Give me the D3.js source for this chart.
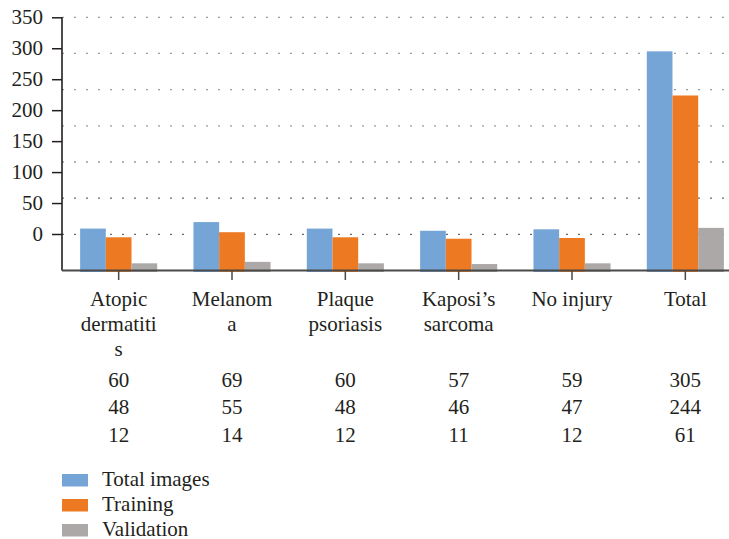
<!DOCTYPE html>
<html>
<head>
<meta charset="utf-8">
<script src="https://cdn.jsdelivr.net/npm/d3@7/dist/d3.min.js"></script>
</head>
<body style="margin:0">
<svg id="chart" width="729" height="539" font-family="Liberation Serif"></svg>
<script>
// Dataset split per lesion class
const categories = ["Atopic dermatitis", "Melanoma", "Plaque psoriasis", "Kaposi’s sarcoma", "No injury", "Total"];
const categoryLines = [["Atopic", "dermatiti", "s"], ["Melanom", "a"], ["Plaque", "psoriasis"], ["Kaposi’s", "sarcoma"], ["No injury"], ["Total"]];
const seriesNames = ["Total images", "Training", "Validation"];
const totalImages = [60, 69, 60, 57, 59, 305];
const training = [48, 55, 48, 46, 47, 244];
const validation = [12, 14, 12, 11, 12, 61];
const yTickValues = [0, 50, 100, 150, 200, 250, 300, 350];
const gridValues = [50, 100, 150, 200, 250, 300, 350];

const seriesValues = [totalImages, training, validation];
const colors = ["#75a5d6", "#ed7a22", "#aba8a7"];
const INK = "#231f20";
const SERIF = "Liberation Serif";

const svg = d3.select("#chart");
const plotLeft = 62, plotRight = 742, plotTop = 17.3, plotBottom = 270.5;

const y = d3.scaleLinear().domain([0, 350]).range([plotBottom, plotTop]);
// Axis labels sit on their own, compressed scale
const yLabel = d3.scaleLinear().domain([0, 350]).range([234, plotTop]);

const x0 = d3.scaleBand().domain(categories).range([plotLeft, plotRight])
  .paddingInner(0.32).paddingOuter(0.16);
const x1 = d3.scaleBand().domain(seriesNames).range([0, x0.bandwidth()]);
const cx = d => x0(d) + x0.bandwidth() / 2;

// Dotted gridlines
svg.append("g").selectAll("line").data(gridValues).join("line")
  .attr("x1", plotLeft).attr("x2", 729)
  .attr("y1", d => y(d)).attr("y2", d => y(d))
  .attr("stroke", d => d <= 100 ? "#6a6a6a" : "#9a9a9a")
  .attr("stroke-width", 1.3)
  .attr("stroke-dasharray", "2,10");

// Bars (baseline sits just under the axis line)
const rows = categories.map((c, i) => ({ c, vals: seriesNames.map((s, j) => ({ s, v: seriesValues[j][i], j })) }));
const groups = svg.append("g").attr("transform", "translate(0,1.5)")
  .selectAll("g").data(rows).join("g")
  .attr("transform", d => `translate(${x0(d.c)},0)`);
groups.selectAll("rect").data(d => d.vals).join("rect")
  .attr("x", d => x1(d.s))
  .attr("width", x1.bandwidth())
  .attr("y", d => y(d.v))
  .attr("height", d => y(0) - y(d.v))
  .attr("fill", d => colors[d.j]);

// Y axis: ticks and line from d3.axisLeft, labels as plain text on the root
const yAxis = svg.append("g").attr("transform", `translate(${plotLeft},0)`)
  .call(d3.axisLeft(yLabel).tickValues(yTickValues).tickSize(10).tickFormat(""));
yAxis.select(".domain").remove();
yAxis.selectAll(".tick line").attr("stroke", INK).attr("stroke-width", 1.5);
svg.selectAll("text.ylab").data(yTickValues).join("text")
  .attr("class", "ylab")
  .attr("x", plotLeft - 19).attr("y", d => yLabel(d)).attr("dy", "0.34em")
  .attr("text-anchor", "end")
  .attr("font-family", () => SERIF).attr("font-size", 21).attr("fill", INK)
  .text(d => d);
svg.append("line").attr("x1", plotLeft).attr("x2", plotLeft).attr("y1", plotTop).attr("y2", plotBottom)
  .attr("stroke", INK).attr("stroke-width", 1.6);

// X axis with ticks at category centres
svg.append("line").attr("x1", plotLeft).attr("x2", 729).attr("y1", plotBottom).attr("y2", plotBottom)
  .attr("stroke", "#4a4a4a").attr("stroke-width", 2);
svg.append("g").selectAll("line").data(categories).join("line")
  .attr("x1", cx).attr("x2", cx)
  .attr("y1", plotBottom).attr("y2", 280)
  .attr("stroke", "#4a4a4a").attr("stroke-width", 1.5);

// Category labels, one text node per line
const labelLines = categories.flatMap((c, i) => categoryLines[i].map((t, k) => ({ c, t, k })));
svg.selectAll("text.cat").data(labelLines).join("text")
  .attr("class", "cat")
  .attr("x", d => cx(d.c)).attr("y", d => 306 + d.k * 25)
  .attr("text-anchor", "middle")
  .attr("font-family", () => SERIF).attr("font-size", 21).attr("fill", INK)
  .text(d => d.t);

// Data table rows
const tableY = [386.5, 414, 441.5];
const cells = seriesValues.flatMap((vals, j) => categories.map((c, i) => ({ c, v: vals[i], j })));
svg.selectAll("text.cell").data(cells).join("text")
  .attr("class", "cell")
  .attr("x", d => cx(d.c)).attr("y", d => tableY[d.j])
  .attr("text-anchor", "middle")
  .attr("font-family", () => SERIF).attr("font-size", 21).attr("fill", INK)
  .text(d => d.v);

// Legend
svg.selectAll("rect.key").data(seriesNames).join("rect")
  .attr("class", "key")
  .attr("x", 62).attr("y", (d, i) => 474 + i * 25)
  .attr("width", 26).attr("height", 12.5).attr("fill", (d, i) => colors[i]);
svg.selectAll("text.key").data(seriesNames).join("text")
  .attr("class", "key")
  .attr("x", 102).attr("y", (d, i) => 485.5 + i * 25)
  .attr("font-family", () => SERIF).attr("font-size", 21).attr("fill", INK)
  .text(d => d);
</script>
</body>
</html>
